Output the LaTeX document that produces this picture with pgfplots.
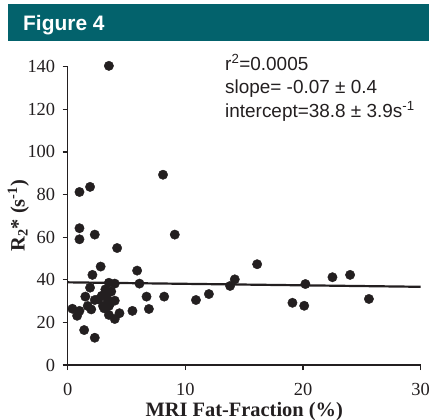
\documentclass[border=0pt]{standalone}
\usepackage{pgfplots}
\pgfplotsset{compat=1.18}
\usepackage{fontspec}
\setmainfont{Liberation Serif}
\newfontfamily\arial{Liberation Sans}
\definecolor{banner}{HTML}{03626C}
\definecolor{ink}{HTML}{231F20}

\begin{document}
\begin{tikzpicture}
\useasboundingbox (0bp,0bp) rectangle (429bp,-420bp);
% header strip
\fill[banner] (8bp,-4bp) rectangle (429bp,-41bp);
\node[anchor=base west, text=white, inner sep=0,
  font=\arial\bfseries\fontsize{21}{24}\selectfont] at (23bp,-30bp) {Figure 4};

\begin{axis}[
  at={(67.7bp,-365bp)}, anchor=south west,
  scale only axis, width=353bp, height=298.3bp,
  xmin=0, xmax=30, ymin=0, ymax=140,
  axis lines=left,
  axis line style={ink, line width=1.4bp, -},
  xtick={0,10,20,30}, ytick={0,20,...,140},
  tick align=outside, major tick length=5bp,
  tick style={ink, line width=1.2bp},
  tick label style={font=\fontsize{18.5}{20}\selectfont, text=ink},
  xticklabel style={yshift=-10bp},
  yticklabel style={xshift=-4bp},
  /pgf/number format/assume math mode=true,
  xlabel={\textbf{MRI Fat-Fraction (\%)}},
  xlabel style={at={(axis description cs:0.5,-0.174)}, anchor=base,
    font=\fontsize{20.5}{22}\selectfont, text=ink, inner sep=0},
  ylabel={\textbf{R\textsubscript{2}* (s\textsuperscript{-1})}},
  ylabel style={at={(axis description cs:-0.14,0.5)}, anchor=center,
    font=\fontsize{20.5}{22}\selectfont, text=ink},
  clip=false,
]
\addplot[ink, line width=2.2bp, no marks] coordinates {(0,38.8) (30,36.7)};
\addplot[only marks, mark=*, mark size=4.7bp, mark options={fill=ink, draw=ink}]
  table {
x y
3.5 140.4
1.0 81.2
1.9 83.6
8.1 89.3
1.0 59.0
2.3 61.2
1.0 64.2
4.2 54.9
9.1 61.2
16.1 47.3
2.8 46.2
5.9 44.3
2.1 42.3
6.1 38.2
3.5 38.6
4.0 38.2
1.9 36.3
3.2 35.5
1.5 32.1
6.7 32.1
8.2 32.1
10.9 30.5
12.0 33.3
13.8 37.1
14.2 40.2
4.0 30.2
2.3 30.5
1.7 27.7
2.6 30.8
3.0 27.7
3.4 30.5
3.5 27.7
3.1 26.6
2.0 26.1
0.4 26.4
1.0 25.4
0.8 23.1
6.9 26.3
5.5 25.4
4.4 24.3
3.5 23.5
4.0 21.6
1.4 16.4
2.3 12.8
20.2 38.0
19.1 29.2
20.1 27.8
22.5 41.2
24.0 42.3
25.6 31.0
3.3 33.0
3.7 34.5
2.9 32.5
3.6 29.0
};
\end{axis}

% fit statistics
\begin{scope}[font=\arial\fontsize{19}{22}\selectfont, text=ink]
\node[anchor=base west, inner sep=0] at (225bp,-70bp) {r\textsuperscript{2}=0.0005};
\node[anchor=base west, inner sep=0] at (225bp,-93.5bp) {slope= -0.07 ± 0.4};
\node[anchor=base west, inner sep=0] at (225bp,-117bp) {intercept=38.8 ± 3.9s\textsuperscript{-1}};
\end{scope}
\end{tikzpicture}
\end{document}
